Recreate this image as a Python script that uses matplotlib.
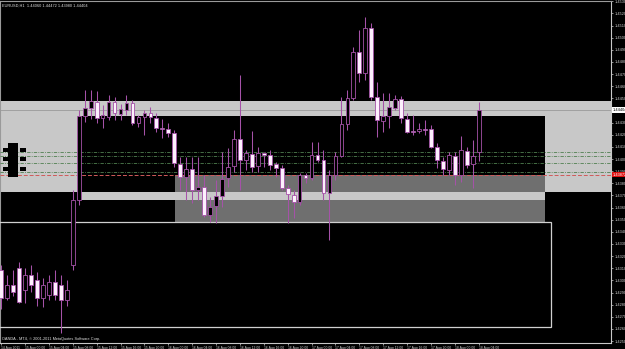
import matplotlib
matplotlib.use("Agg")
import matplotlib.pyplot as plt
from matplotlib.patches import Rectangle

# ---------------- data (EURUSD H1, bars indexed by hours from 15 Aug 00:00) ----------------
bar_hours = list(range(-4, 77))
opens = [1.43085, 1.42855, 1.42962, 1.43102, 1.42921, 1.43044, 1.43003, 1.42855, 1.42879, 1.42987,
         1.42962, 1.42838, 1.43126, 1.43662, 1.44354, 1.44420, 1.44470, 1.44338, 1.44346, 1.44470,
         1.44371, 1.44404, 1.44461, 1.44297, 1.44346, 1.44379, 1.44338, 1.44255, 1.44247, 1.44214,
         1.43959, 1.43852, 1.43917, 1.43744, 1.43769, 1.43538, 1.43613, 1.43695, 1.43843, 1.43942,
         1.44165, 1.43992, 1.44041, 1.43942, 1.44049, 1.44033, 1.43959, 1.43926, 1.43761, 1.43703,
         1.43646, 1.43868, 1.43843, 1.44033, 1.43992, 1.43720, 1.43868, 1.44025, 1.44288, 1.44502,
         1.44882, 1.44709, 1.45079, 1.44511, 1.44313, 1.44354, 1.44420, 1.44494, 1.44329, 1.44231,
         1.44231, 1.44247, 1.44247, 1.44099, 1.43983, 1.43909, 1.44025, 1.43868, 1.44066, 1.43959,
         1.44060]
highs = [1.43126, 1.43044, 1.43085, 1.43151, 1.43102, 1.43126, 1.43069, 1.43020, 1.43044, 1.43085,
         1.43044, 1.43003, 1.43744, 1.44404, 1.44568, 1.44568, 1.44560, 1.44445, 1.44527, 1.44511,
         1.44453, 1.44527, 1.44486, 1.44362, 1.44404, 1.44428, 1.44379, 1.44329, 1.44297, 1.44239,
         1.44016, 1.44016, 1.44016, 1.44016, 1.43868, 1.43687, 1.43827, 1.44058, 1.44091, 1.44239,
         1.44692, 1.44074, 1.44231, 1.44099, 1.44058, 1.44074, 1.43975, 1.43950, 1.43786, 1.43744,
         1.43885, 1.43885, 1.44140, 1.44140, 1.44074, 1.43909, 1.44058, 1.44511, 1.44568, 1.44923,
         1.45063, 1.45170, 1.45121, 1.44634, 1.44544, 1.44544, 1.44527, 1.44519, 1.44379, 1.44362,
         1.44297, 1.44321, 1.44280, 1.44132, 1.44016, 1.44058, 1.44058, 1.44189, 1.44099, 1.44156,
         1.44472]
lows = [1.42764, 1.42838, 1.42871, 1.42813, 1.42813, 1.42904, 1.42789, 1.42780, 1.42838, 1.42838,
        1.42566, 1.42789, 1.43085, 1.43621, 1.44305, 1.44329, 1.44297, 1.44255, 1.44321, 1.44321,
        1.44321, 1.44362, 1.44280, 1.44264, 1.44198, 1.44297, 1.44223, 1.44173, 1.44181, 1.43934,
        1.43744, 1.43662, 1.43637, 1.43662, 1.43522, 1.43481, 1.43473, 1.43604, 1.43769, 1.43893,
        1.43744, 1.43909, 1.43893, 1.43893, 1.43934, 1.43909, 1.43852, 1.43744, 1.43473, 1.43514,
        1.43621, 1.43802, 1.43827, 1.43975, 1.43662, 1.43333, 1.43827, 1.44016, 1.44239, 1.44486,
        1.44634, 1.44651, 1.44486, 1.44181, 1.44223, 1.44255, 1.44404, 1.44297, 1.44214, 1.44198,
        1.44214, 1.44198, 1.44091, 1.43926, 1.43868, 1.43868, 1.43786, 1.43810, 1.43926, 1.43761,
        1.43980]
closes = [1.42855, 1.42962, 1.42904, 1.42822, 1.43044, 1.42962, 1.42855, 1.42962, 1.42987, 1.42879,
          1.42838, 1.42921, 1.43662, 1.44354, 1.44420, 1.44478, 1.44338, 1.44362, 1.44470, 1.44379,
          1.44412, 1.44461, 1.44297, 1.44346, 1.44379, 1.44346, 1.44255, 1.44247, 1.44214, 1.43967,
          1.43852, 1.43917, 1.43744, 1.43769, 1.43538, 1.43604, 1.43695, 1.43835, 1.43934, 1.44165,
          1.43992, 1.44049, 1.43934, 1.44049, 1.44033, 1.43950, 1.43926, 1.43761, 1.43711, 1.43646,
          1.43868, 1.43843, 1.44033, 1.43992, 1.43720, 1.43868, 1.44025, 1.44288, 1.44502, 1.44882,
          1.44709, 1.45079, 1.44511, 1.44321, 1.44354, 1.44428, 1.44494, 1.44338, 1.44223, 1.44223,
          1.44247, 1.44239, 1.44099, 1.43992, 1.43917, 1.44033, 1.43868, 1.44074, 1.43950, 1.44025,
          1.44404]

time_tick_hours = [-4, 0, 4, 8, 12, 16, 20, 24, 28, 32, 36, 40, 44, 48, 52, 56, 60, 64, 68, 72, 76]
time_tick_labels = ["14 Aug 2011", "15 Aug 00:00", "15 Aug 04:00", "15 Aug 08:00", "15 Aug 12:00",
                    "15 Aug 16:00", "15 Aug 20:00", "16 Aug 00:00", "16 Aug 04:00", "16 Aug 08:00",
                    "16 Aug 12:00", "16 Aug 16:00", "16 Aug 20:00", "17 Aug 00:00", "17 Aug 04:00",
                    "17 Aug 08:00", "17 Aug 12:00", "17 Aug 16:00", "17 Aug 20:00", "18 Aug 00:00",
                    "18 Aug 04:00"]
price_ticks = [1.4530, 1.4520, 1.4510, 1.4500, 1.4490, 1.4480, 1.4470, 1.4460, 1.4450, 1.4440,
               1.4430, 1.4420, 1.4410, 1.4400, 1.4390, 1.4380, 1.4370, 1.4360, 1.4350, 1.4340,
               1.4330, 1.4320, 1.4310, 1.4300, 1.4290, 1.4280, 1.4270, 1.4260, 1.4250]

# chart objects (time in bar hours, price levels)
band_price = (1.43728, 1.44478)          # light grey zone across the chart
black_zone = (8.8, 87.1, 1.43728, 1.44354)
mid_zone = (25.1, 87.1, 1.43481, 1.43868)
light_bar = (9.3, 87.1, 1.43662, 1.43728)
outline_zone = (-10, 88.1, 1.42616, 1.43481)
green_levels = [1.44058, 1.44025, 1.43967, 1.43893]
red_level = 1.43872

# ---------------- figure ----------------
W, H = 625, 349
fig = plt.figure(figsize=(W / 100, H / 100), dpi=100, facecolor="black")
ax = fig.add_axes([0, (H - 343) / H, 611 / W, 342 / H], facecolor="black")
xlim = (-4.19, 98.16)
ylim = (1.42484, 1.45302)
ax.set_xlim(*xlim)
ax.set_ylim(*ylim)

# zones
ax.add_patch(Rectangle((xlim[0] - 5, band_price[0]), 120, band_price[1] - band_price[0],
                       facecolor="#c8c8c8", edgecolor="none", zorder=1))
x0, x1, p0, p1 = black_zone
ax.add_patch(Rectangle((x0, p0), x1 - x0, p1 - p0, facecolor="black", edgecolor="none", zorder=2))
x0, x1, p0, p1 = mid_zone
ax.add_patch(Rectangle((x0, p0), x1 - x0, p1 - p0, facecolor="#6f6f6f", edgecolor="none", zorder=3))
x0, x1, p0, p1 = light_bar
ax.add_patch(Rectangle((x0, p0), x1 - x0, p1 - p0, facecolor="#c8c8c8", edgecolor="none", zorder=4))
x0, x1, p0, p1 = outline_zone
ax.add_patch(Rectangle((x0, p0), x1 - x0, p1 - p0, facecolor="none", edgecolor="#d0d0d0",
                       linewidth=0.9, zorder=4))

# level lines
for lv in green_levels:
    ax.axhline(lv, color="#4f7f4f", linewidth=0.6, linestyle=(0, (4, 1.5, 1, 1.5)), zorder=5)
ax.axhline(red_level, color="#d05a5a", linewidth=0.7, linestyle=(0, (4, 2)), zorder=5)
ax.axhline(closes[-1], color="#9a9a9a", linewidth=0.6, zorder=5)

# candles
wick_c = "#a552a8"
for t, o, h, l, c in zip(bar_hours, opens, highs, lows, closes):
    ax.vlines(t, l, h, color=wick_c, linewidth=0.75, zorder=6)
    fill = "black" if c >= o else "#fdf0fd"
    ax.bar(t, abs(c - o), bottom=min(o, c), width=0.62, color=fill,
           edgecolor=wick_c, linewidth=0.6, zorder=7)

# axes styling
for s in ("left", "top"):
    ax.spines[s].set_color("#9a9a9a")
    ax.spines[s].set_linewidth(0.8)
for s in ("right", "bottom"):
    ax.spines[s].set_color("#c8c8c8")
    ax.spines[s].set_linewidth(0.8)

ax.yaxis.tick_right()
ax.set_yticks(price_ticks)
ax.set_yticklabels([f"{p:.5f}" for p in price_ticks])
ax.set_xticks(time_tick_hours)
ax.set_xticklabels(time_tick_labels)
ax.tick_params(axis="y", colors="#d0d0d0", labelsize=2.8, length=1.5, width=0.5, pad=1,
               labelfontfamily="Liberation Sans")
ax.tick_params(axis="x", colors="#d0d0d0", labelsize=2.4, length=1.5, width=0.5, pad=0.8,
               labelfontfamily="Liberation Sans")
for lab in ax.get_xticklabels():
    lab.set_ha("left")

# price tags on the right
ax.text(1.003, closes[-1], f"{closes[-1]:.5f}", transform=ax.get_yaxis_transform(),
        fontsize=2.8, family="Liberation Sans", color="black", va="center", ha="left",
        bbox=dict(boxstyle="square,pad=0.15", fc="white", ec="none"), clip_on=False, zorder=10)
ax.text(1.003, red_level, f"{red_level:.5f}", transform=ax.get_yaxis_transform(),
        fontsize=2.8, family="Liberation Sans", color="white", va="center", ha="left",
        bbox=dict(boxstyle="square,pad=0.15", fc="#e01010", ec="none"), clip_on=False, zorder=10)

# header / footer text
ax.text(0.004, 0.992, f"EURUSD,H1  {opens[-1]:.5f} {highs[-1]:.5f} {lows[-1]:.5f} {closes[-1]:.5f}",
        transform=ax.transAxes, fontsize=2.8, family="Liberation Sans", color="#e0e0e0",
        va="top", ha="left", zorder=10)
ax.text(0.004, 0.006, "OANDA - MT4, \u00a9 2001-2011 MetaQuotes Software Corp.",
        transform=ax.transAxes, fontsize=2.8, family="Liberation Sans", color="#e0e0e0",
        va="bottom", ha="left", zorder=10)

# small black object labels at left edge of the zone
for (px, py, pw, ph) in [(8, 143, 10, 34), (3, 148, 5, 4), (20, 148, 6, 4), (3, 157, 5, 4),
                         (20, 157, 6, 4), (3, 167, 5, 4), (20, 167, 6, 4)]:
    fig.add_artist(Rectangle((px / W, 1 - (py + ph) / H), pw / W, ph / H,
                             transform=fig.transFigure, facecolor="black", edgecolor="none",
                             zorder=11))

fig.savefig("out.png", dpi=100, facecolor="black")
